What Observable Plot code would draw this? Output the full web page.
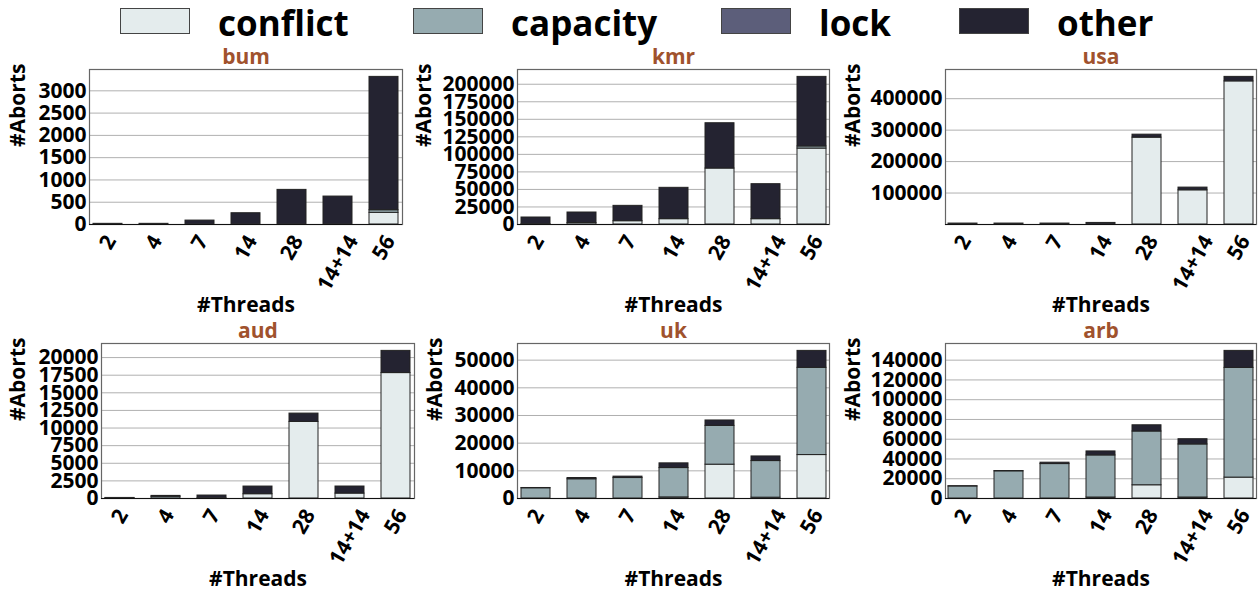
<!DOCTYPE html>
<html><head><meta charset="utf-8">
<script src="https://cdn.jsdelivr.net/npm/d3@7"></script>
<script src="https://cdn.jsdelivr.net/npm/@observablehq/plot@0.6"></script>
<style>
body{margin:0;background:#fff;}
#root{position:relative;width:1258px;height:593px;overflow:hidden;font-family:"Open Sans",sans-serif;font-weight:700;color:#000;}
.li{position:absolute;top:8px;height:26px;display:flex;align-items:center;white-space:nowrap;}
.sw{width:70px;height:26px;border:1px solid #444;box-sizing:border-box;}
.lt{margin-left:28px;font-size:35px;line-height:26px;position:relative;top:2px;}
</style></head>
<body><div id="root"></div>
<script>
const categories = ["2","4","7","14","28","14+14","56"];
const types = ["conflict","capacity","lock","other"];
const colors = ["#e4eced","#96abb0","#5c5e7a","#242331"];

const bumConflict = [0,0,0,0,0,0,262];
const bumCapacity = [0,0,0,0,0,0,58];
const bumLock     = [0,0,0,0,0,0,0];
const bumOther    = [15,15,88,253,777,627,2993];
const bumTicks    = [0,500,1000,1500,2000,2500,3000];

const kmrConflict = [500,2000,4700,7600,79800,7600,108300];
const kmrCapacity = [0,0,0,0,0,0,3000];
const kmrLock     = [0,0,0,0,0,0,0];
const kmrOther    = [9480,15100,21900,44700,64600,49900,99200];
const kmrTicks    = [0,25000,50000,75000,100000,125000,150000,175000,200000];

const usaConflict = [0,0,0,0,276100,108700,455000];
const usaCapacity = [0,0,0,0,0,0,0];
const usaLock     = [0,0,0,0,0,0,0];
const usaOther    = [3000,3000,3000,5000,9500,8600,14300];
const usaTicks    = [100000,200000,300000,400000];

const audConflict = [0,0,0,610,10870,700,17800];
const audCapacity = [60,250,20,0,0,0,0];
const audLock     = [0,0,0,0,0,0,0];
const audOther    = [20,120,400,1085,1180,1000,3150];
const audTicks    = [0,2500,5000,7500,10000,12500,15000,17500,20000];

const ukConflict  = [0,0,0,400,12230,300,15700];
const ukCapacity  = [3700,6950,7400,10600,14020,13230,31530];
const ukLock      = [0,0,0,0,0,0,0];
const ukOther     = [100,450,500,1700,1950,1670,6120];
const ukTicks     = [0,10000,20000,30000,40000,50000];

const arbConflict = [0,0,0,1000,13400,1000,21150];
const arbCapacity = [12200,27500,34850,42600,54400,53700,111050];
const arbLock     = [0,0,0,0,0,0,0];
const arbOther    = [200,300,1400,4040,6300,5300,17200];
const arbTicks    = [0,20000,40000,60000,80000,100000,120000,140000];

const panels = [
  {name:"bum", series:[bumConflict,bumCapacity,bumLock,bumOther], ticks:bumTicks, fl:89,  ft:69,  fw:313, yl:71},
  {name:"kmr", series:[kmrConflict,kmrCapacity,kmrLock,kmrOther], ticks:kmrTicks, fl:517, ft:69,  fw:312, yl:93},
  {name:"usa", series:[usaConflict,usaCapacity,usaLock,usaOther], ticks:usaTicks, fl:945, ft:69,  fw:311, yl:92},
  {name:"aud", series:[audConflict,audCapacity,audLock,audOther], ticks:audTicks, fl:101, ft:343, fw:313, yl:83},
  {name:"uk",  series:[ukConflict,ukCapacity,ukLock,ukOther],     ticks:ukTicks,  fl:517, ft:343, fw:312, yl:82},
  {name:"arb", series:[arbConflict,arbCapacity,arbLock,arbOther], ticks:arbTicks, fl:945, ft:343, fw:311, yl:92}
];

const root = document.getElementById("root");

// legend
const legendX = [120, 413, 721, 959];
types.forEach((t, i) => {
  const d = document.createElement("div");
  d.className = "li";
  d.style.left = legendX[i] + "px";
  d.innerHTML = `<div class="sw" style="background:${colors[i]}"></div><div class="lt">${t}</div>`;
  root.appendChild(d);
});

const FONT = 21;
const mt = 29, mb = 96, fh = 155;

panels.forEach(p => {
  const data = [];
  types.forEach((t, ti) => {
    categories.forEach((c, ci) => {
      const v = p.series[ti][ci];
      if (v > 0) data.push({cat: c, type: t, value: v});
    });
  });
  const totals = categories.map((c, ci) => d3.sum(p.series, s => s[ci]));
  const ymax = d3.max(totals) * 1.05;
  const ml = p.fl, mr = 2;
  const tickMarks = categories.map(c => {
    const L = c.length * 12;
    const dy = 9 + (L * 0.866 + 15 * 0.5) / 2;
    return Plot.text([c], {x: d => d, frameAnchor: "bottom", dy, rotate: -60,
      textAnchor: "middle", lineAnchor: "middle", fontSize: FONT, fontWeight: 700, fill: "#000"});
  });
  const svg = Plot.plot({
    width: ml + p.fw + mr,
    height: mt + fh + mb,
    marginLeft: ml, marginRight: mr, marginTop: mt, marginBottom: mb,
    style: {fontFamily: "'Open Sans', sans-serif", fontWeight: 700, fontSize: FONT + "px",
            background: "transparent", overflow: "visible", color: "#000"},
    x: {type: "band", domain: categories, paddingInner: 0.37, paddingOuter: 0.065, axis: null},
    y: {domain: [0, ymax], axis: null},
    color: {domain: types, range: colors},
    marks: [
      Plot.gridY(p.ticks, {stroke: "#b0b0b0", strokeOpacity: 1, strokeWidth: 1}),
      Plot.barY(data, {x: "cat", y: "value", fill: "type", order: types, stroke: "#222", strokeWidth: 1}),
      Plot.frame({stroke: "#666", strokeWidth: 1.2}),
      Plot.ruleY([0], {stroke: "#111", strokeWidth: 1.2}),
      Plot.axisY(p.ticks, {tickSize: 0, tickPadding: 3, fontSize: FONT, fontWeight: 700,
        tickFormat: d3.format("d"), label: null, fill: "#000"}),
      ...tickMarks,
      Plot.text([p.name], {frameAnchor: "top", dy: -12, lineAnchor: "middle", fill: "#a0522d",
        fontSize: 21, fontWeight: 700}),
      Plot.text(["#Threads"], {frameAnchor: "bottom", dy: 81, lineAnchor: "middle", fill: "#000",
        fontSize: 21, fontWeight: 700}),
      Plot.text(["#Aborts"], {frameAnchor: "left", dx: -p.yl, rotate: -90, lineAnchor: "middle",
        fill: "#000", fontSize: 21, fontWeight: 700})
    ]
  });
  svg.style.position = "absolute";
  svg.style.left = (p.fl - ml) + "px";
  svg.style.top = (p.ft - mt) + "px";
  svg.style.maxWidth = "none";
  root.appendChild(svg);
});
</script></body></html>
